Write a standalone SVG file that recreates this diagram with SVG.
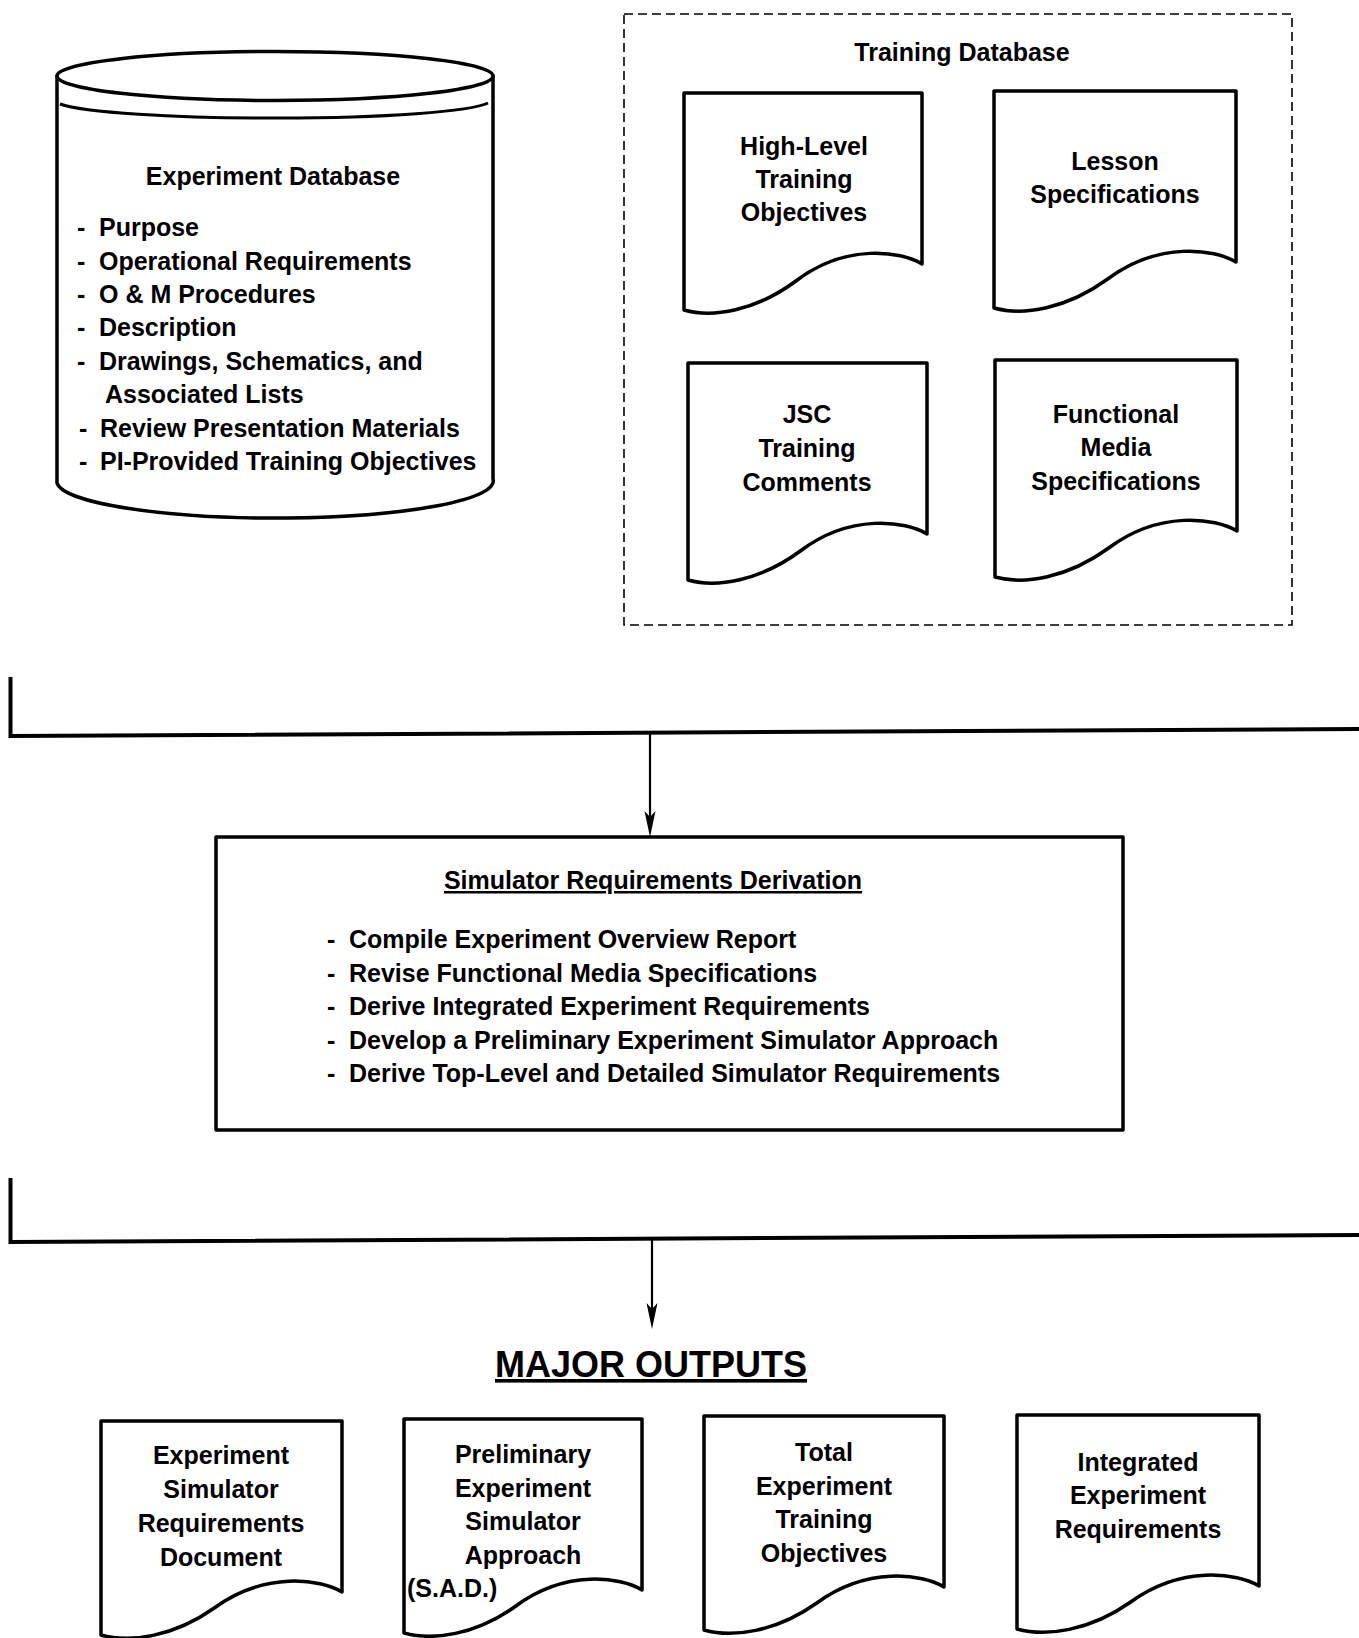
<svg xmlns="http://www.w3.org/2000/svg" width="1359" height="1638" viewBox="0 0 1359 1638">
<style>
.t{font-family:"Liberation Sans",Arial,Helvetica,sans-serif;font-size:25px;font-weight:bold;fill:#000}
.c{text-anchor:middle}
.u{text-decoration:underline}
.big{font-size:36px}
.shape{fill:#fff;stroke:#000;stroke-width:3.5;stroke-linejoin:round}
.line{fill:none;stroke:#000;stroke-width:3}
.bus{fill:none;stroke:#000;stroke-width:4}
.shaft{fill:none;stroke:#000;stroke-width:2.2}
.dash{fill:none;stroke:#000;stroke-width:1.6;stroke-dasharray:9 5}
</style>
<defs>
<marker id="ah" viewBox="-16 -8 30 16" refX="0" refY="0" markerWidth="30" markerHeight="16" orient="auto" markerUnits="userSpaceOnUse">
<path d="M12,0 L-14,-5.5 L-8,0 L-14,5.5 Z" fill="#000"/>
</marker>
</defs>
<rect width="1359" height="1638" fill="#fff"/>

<g id="experiment-database">
<path class="shape" d="M57,76 V483 A218,37 0 0 0 493,479 V76 Z"/>
<ellipse class="shape" cx="275" cy="76" rx="218" ry="24.5"/>
<path class="line" d="M60,104 A218,18 0 0 0 488,103"/>
<text class="t c" x="273" y="185">Experiment Database</text>
<text class="t" x="77" y="236">-</text><text class="t" x="99" y="236">Purpose</text>
<text class="t" x="77" y="270">-</text><text class="t" x="99" y="270">Operational Requirements</text>
<text class="t" x="77" y="303">-</text><text class="t" x="99" y="303">O &amp; M Procedures</text>
<text class="t" x="77" y="336">-</text><text class="t" x="99" y="336">Description</text>
<text class="t" x="77" y="370">-</text><text class="t" x="99" y="370">Drawings, Schematics, and</text>
<text class="t" x="105" y="403">Associated Lists</text>
<text class="t" x="79" y="437">-</text><text class="t" x="100" y="437">Review Presentation Materials</text>
<text class="t" x="79" y="470">-</text><text class="t" x="100" y="470">PI-Provided Training Objectives</text>
</g>

<g id="training-database">
<rect class="dash" x="624" y="14" width="668" height="611"/>
<text class="t c" x="962" y="61">Training Database</text>
</g>

<g id="high-level-training-objectives">
<path class="shape" d="M684,93 H922 V264 C900.6,251 845.8,243 795.9,281 C755.4,311 712.6,318 684,310 Z"/>
<text class="t c" x="804" y="155">High-Level</text>
<text class="t c" x="804" y="188">Training</text>
<text class="t c" x="804" y="221">Objectives</text>
</g>

<g id="lesson-specifications">
<path class="shape" d="M994,91 H1236 V262 C1214.2,249 1158.6,241 1107.7,279 C1066.6,309 1023,316 994,308 Z"/>
<text class="t c" x="1115" y="170">Lesson</text>
<text class="t c" x="1115" y="203">Specifications</text>
</g>

<g id="jsc-training-comments">
<path class="shape" d="M688,363 H927 V534 C905.5,521 850.5,513 800.3,551 C759.7,581 716.7,588 688,580 Z"/>
<text class="t c" x="807" y="423">JSC</text>
<text class="t c" x="807" y="457">Training</text>
<text class="t c" x="807" y="491">Comments</text>
</g>

<g id="functional-media-specifications">
<path class="shape" d="M995,360 H1237 V531 C1215.2,518 1159.6,510 1108.7,548 C1067.6,578 1024,585 995,577 Z"/>
<text class="t c" x="1116" y="423">Functional</text>
<text class="t c" x="1116" y="456">Media</text>
<text class="t c" x="1116" y="490">Specifications</text>
</g>

<g id="connectors">
<path class="bus" d="M10.5,677 V736 L1359,729"/>
<line class="shaft" x1="650" y1="734" x2="650" y2="825" marker-end="url(#ah)"/>
<path class="bus" d="M10.5,1178 V1242 L1359,1235"/>
<line class="shaft" x1="652" y1="1239" x2="652" y2="1317" marker-end="url(#ah)"/>
</g>

<g id="simulator-requirements-derivation">
<rect class="shape" x="216" y="837" width="907" height="293" stroke-width="3"/>
<text class="t c u" x="653" y="889">Simulator Requirements Derivation</text>
<text class="t" x="327" y="948">-</text><text class="t" x="349" y="948">Compile Experiment Overview Report</text>
<text class="t" x="327" y="982">-</text><text class="t" x="349" y="982">Revise Functional Media Specifications</text>
<text class="t" x="327" y="1015">-</text><text class="t" x="349" y="1015">Derive Integrated Experiment Requirements</text>
<text class="t" x="327" y="1049">-</text><text class="t" x="349" y="1049">Develop a Preliminary Experiment Simulator Approach</text>
<text class="t" x="327" y="1082">-</text><text class="t" x="349" y="1082">Derive Top-Level and Detailed Simulator Requirements</text>
</g>

<g id="major-outputs">
<text class="t c u big" x="651" y="1377">MAJOR OUTPUTS</text>
</g>

<g id="experiment-simulator-requirements-document">
<path class="shape" d="M101,1421 H342 V1592 C320.3,1579 264.9,1571 214.3,1608 C173.3,1637 129.9,1643 101,1635 Z"/>
<text class="t c" x="221" y="1464">Experiment</text>
<text class="t c" x="221" y="1498">Simulator</text>
<text class="t c" x="221" y="1532">Requirements</text>
<text class="t c" x="221" y="1566">Document</text>
</g>

<g id="preliminary-experiment-simulator-approach">
<path class="shape" d="M404,1419 H642 V1590 C620.6,1577 565.8,1569 515.9,1606 C475.4,1635 432.6,1641 404,1633 Z"/>
<text class="t c" x="523" y="1463">Preliminary</text>
<text class="t c" x="523" y="1497">Experiment</text>
<text class="t c" x="523" y="1530">Simulator</text>
<text class="t c" x="523" y="1564">Approach</text>
<text class="t" x="407" y="1597">(S.A.D.)</text>
</g>

<g id="total-experiment-training-objectives">
<path class="shape" d="M704,1416 H944 V1587 C922.4,1574 867.2,1566 816.8,1603 C776,1632 732.8,1638 704,1630 Z"/>
<text class="t c" x="824" y="1461">Total</text>
<text class="t c" x="824" y="1495">Experiment</text>
<text class="t c" x="824" y="1528">Training</text>
<text class="t c" x="824" y="1562">Objectives</text>
</g>

<g id="integrated-experiment-requirements">
<path class="shape" d="M1017,1415 H1259 V1586 C1237.2,1573 1181.6,1565 1130.7,1602 C1089.6,1631 1046,1637 1017,1629 Z"/>
<text class="t c" x="1138" y="1471">Integrated</text>
<text class="t c" x="1138" y="1504">Experiment</text>
<text class="t c" x="1138" y="1538">Requirements</text>
</g>
</svg>
